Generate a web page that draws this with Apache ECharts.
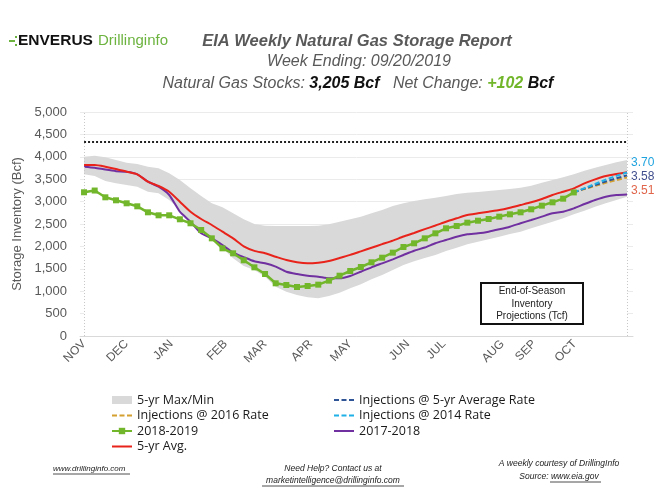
<!DOCTYPE html>
<html>
<head>
<meta charset="utf-8">
<script src="https://cdn.jsdelivr.net/npm/echarts@6/dist/echarts.min.js"></script>
<style>
html,body{margin:0;padding:0;background:#fff;}
#chart{width:665px;height:498px;}
</style>
</head>
<body>
<div id="chart"></div>
<script>
// ---- data (weekly, week ending dates) ----
const weeks = ['11/02','11/09','11/16','11/23','11/30','12/07','12/14','12/21','12/28',
  '01/04','01/11','01/18','01/25','02/01','02/08','02/15','02/22','03/01','03/08','03/15','03/22','03/29',
  '04/05','04/12','04/19','04/26','05/03','05/10','05/17','05/24','05/31','06/07','06/14','06/21','06/28',
  '07/05','07/12','07/19','07/26','08/02','08/09','08/16','08/23','08/30','09/06','09/13','09/20',
  '09/27','10/04','10/11','10/18','10/25'];
const monthLabels = ['NOV','DEC','JAN','FEB','MAR','APR','MAY','JUN','JUL','AUG','SEP','OCT'];
const monthTicks = [0, 4.0, 8.2, 13.3, 17.0, 21.3, 25.0, 30.4, 33.8, 39.3, 42.3, 46.1];

const fiveYrMax = [4003,4025,3988,3929,3869,3839,3780,3743,3631,3482,3296,3125,2962,2872,2738,2605,2500,2460,2455,2455,2455,2455,2460,2493,2551,2605,2664,2738,2812,2902,2962,3013,3050,3085,3125,3170,3199,3214,3237,3259,3281,3311,3355,3423,3482,3542,3609,3690,3757,3817,3876,3929];
const fiveYrMin = [3609,3570,3460,3408,3370,3333,3221,3185,3036,2812,2551,2366,2180,1957,1734,1560,1473,1324,1101,989,915,863,841,893,967,1065,1154,1265,1362,1473,1585,1670,1740,1808,1897,1971,2046,2105,2158,2217,2277,2329,2404,2478,2551,2627,2716,2797,2887,2962,3036,3110];
const fiveYrAvg = [3817,3817,3780,3728,3668,3609,3445,3348,3221,2998,2775,2612,2478,2329,2180,2000,1900,1846,1770,1696,1645,1622,1637,1674,1740,1810,1890,1970,2050,2130,2220,2300,2385,2465,2551,2627,2701,2738,2775,2812,2864,2924,2984,3058,3147,3221,3296,3408,3497,3571,3616,3654];
const y2017_2018 = [3780,3757,3715,3680,3665,3609,3445,3333,3147,2775,2551,2292,2180,2031,1860,1760,1667,1622,1547,1435,1384,1346,1324,1288,1288,1339,1435,1533,1622,1711,1808,1904,1975,2070,2143,2217,2270,2292,2329,2382,2440,2516,2589,2664,2738,2775,2850,2946,3036,3110,3147,3160];
const y2018_2019 = [3208,3247,3096,3029,2962,2895,2761,2694,2694,2605,2516,2366,2180,1957,1846,1690,1533,1384,1176,1138,1094,1116,1146,1235,1346,1451,1540,1645,1748,1860,1987,2069,2180,2292,2404,2455,2530,2574,2612,2664,2716,2761,2828,2909,2984,3065,3205];
const projStart = 46; // index of 09/20
const proj5yrAvg = [3205,3290,3370,3450,3520,3585];
const proj2016 = [3205,3280,3350,3420,3480,3540];
const proj2014 = [3205,3300,3395,3490,3575,3650];
const endLabels = ['3.70','3.58','3.51'];
const maxCapacity = 4330;

const toXY = (arr, start) => arr.map((v, i) => [i + (start || 0), v]);

const FONT = '"Liberation Sans", Arial, sans-serif';
const chart = echarts.init(document.getElementById('chart'), null, {renderer: 'canvas'});

const legendText = {fontSize: 12.5, color: '#1a1a1a', fontFamily: '"Open Sans", sans-serif', lineHeight: 14};
const option = {
  backgroundColor: '#fff',
  animation: false,
  grid: {left: 80, right: 32, top: 112, bottom: 162},
  xAxis: {
    type: 'value', min: -0.38, max: 51.56, z: 10,
    axisLine: {show: true, lineStyle: {color: '#D9D9D9', width: 1}},
    axisTick: {show: false},
    splitLine: {show: false},
    axisLabel: {
      customValues: monthTicks,
      formatter: v => { const k = monthTicks.indexOf(v); return k >= 0 ? monthLabels[k] : ''; },
      rotate: 45, color: '#595959', fontSize: 12, fontFamily: FONT, margin: 6
    }
  },
  yAxis: {
    type: 'value', min: 0, max: 5000, interval: 500,
    name: 'Storage Inventory (Bcf)', nameLocation: 'middle', nameGap: 49, nameRotate: 90,
    nameTextStyle: {color: '#595959', fontSize: 13, fontFamily: FONT},
    axisLine: {show: false}, axisTick: {show: false},
    axisLabel: {color: '#595959', fontSize: 13, fontFamily: FONT, margin: 13,
      formatter: v => v.toLocaleString('en-US')},
    splitLine: {show: true, lineStyle: {color: '#EBEBEB', width: 1}}
  },
  legend: [
    {
      orient: 'vertical', left: 106, top: 388, itemWidth: 20, itemHeight: 8, itemGap: 1.5,
      itemStyle: {opacity: 0},
      textStyle: legendText,
      data: [{name: '5-yr Max/Min', icon: 'rect', itemStyle: {opacity: 1}}, 'Injections @ 2016 Rate',
             {name: '2018-2019', itemStyle: {opacity: 1}}, '5-yr Avg.']
    },
    {
      orient: 'vertical', left: 328, top: 388, itemWidth: 20, itemHeight: 8, itemGap: 1.5,
      itemStyle: {opacity: 0},
      textStyle: legendText,
      data: ['Injections @ 5-yr Average Rate', 'Injections @ 2014 Rate', '2017-2018']
    }
  ],
  series: [
    {
      name: '5-yr Max/Min', type: 'line', data: toXY(fiveYrMax), symbol: 'none', z: 1,
      itemStyle: {color: '#D9D9D9'},
      lineStyle: {width: 0, color: '#D9D9D9'},
      areaStyle: {color: '#D9D9D9', opacity: 1}
    },
    {
      name: 'min', type: 'line', data: toXY(fiveYrMin), symbol: 'none', z: 1.5,
      lineStyle: {width: 0}, areaStyle: {color: '#FFFFFF', opacity: 1}, silent: true
    },
    {
      name: 'guides', type: 'line', data: [], z: 3, symbol: 'none',
      markLine: {
        silent: true, symbol: 'none', label: {show: false}, animation: false,
        data: [
          [{coord: [0, 0], lineStyle: {type: [1, 2], color: '#C8C8C8', width: 1}}, {coord: [0, 5000]}],
          [{coord: [51, 0], lineStyle: {type: [1, 2], color: '#C8C8C8', width: 1}}, {coord: [51, 5000]}],
          [{coord: [0, maxCapacity], lineStyle: {type: [2, 2], color: '#222', width: 2}}, {coord: [51, maxCapacity]}]
        ]
      }
    },
    {
      name: '2017-2018', type: 'line', data: toXY(y2017_2018), symbol: 'none', smooth: 0.2, z: 4,
      itemStyle: {color: '#7030A0'}, lineStyle: {color: '#7030A0', width: 2}
    },
    {
      name: '5-yr Avg.', type: 'line', data: toXY(fiveYrAvg), symbol: 'none', smooth: 0.2, z: 5,
      itemStyle: {color: '#E8231B'}, lineStyle: {color: '#E8231B', width: 2}
    },
    {
      name: 'Injections @ 2016 Rate', type: 'line', data: toXY(proj2016, projStart), symbol: 'none', z: 6,
      itemStyle: {color: '#D4A02F'}, lineStyle: {color: '#D4A02F', width: 2, type: [5, 2.5]}
    },
    {
      name: 'Injections @ 5-yr Average Rate', type: 'line', data: toXY(proj5yrAvg, projStart), symbol: 'none', z: 6,
      itemStyle: {color: '#2F5597'}, lineStyle: {color: '#2F5597', width: 2, type: [5, 2.5]}
    },
    {
      name: 'Injections @ 2014 Rate', type: 'line', data: toXY(proj2014, projStart), symbol: 'none', z: 6,
      itemStyle: {color: '#1FB0E8'}, lineStyle: {color: '#1FB0E8', width: 2, type: [5, 2.5]}
    },
    {
      name: '2018-2019', type: 'line', data: toXY(y2018_2019), symbol: 'rect', symbolSize: 6, z: 7,
      itemStyle: {color: '#72B62B'}, lineStyle: {color: '#72B62B', width: 2.5}
    }
  ],
  graphic: [
    // logo
    {type: 'rect', shape: {x: 9, y: 40, width: 6, height: 2}, style: {fill: '#6CB33F'}},
    {type: 'rect', shape: {x: 15, y: 36, width: 2, height: 2}, style: {fill: '#6CB33F'}},
    {type: 'rect', shape: {x: 15, y: 44, width: 2, height: 2}, style: {fill: '#6CB33F'}},
    {type: 'text', x: 18, y: 41, style: {text: 'ENVERUS', font: 'bold 15.5px ' + FONT, fill: '#111', verticalAlign: 'middle'}},
    {type: 'text', x: 98, y: 41, style: {text: 'Drillinginfo', font: '15px ' + FONT, fill: '#6CB33F', verticalAlign: 'middle'}},
    // titles
    {type: 'text', x: 357, y: 41, style: {text: 'EIA Weekly Natural Gas Storage Report', font: 'italic bold 16.5px ' + FONT, fill: '#595959', align: 'center', verticalAlign: 'middle'}},
    {type: 'text', x: 359, y: 62, style: {text: 'Week Ending: 09/20/2019', font: 'italic 16px ' + FONT, fill: '#595959', align: 'center', verticalAlign: 'middle'}},
    {type: 'text', x: 358, y: 84, style: {
      text: '{a|Natural Gas Stocks: }{b|3,205 Bcf}{a|   Net Change: }{g|+102}{b| Bcf}',
      align: 'center', verticalAlign: 'middle',
      rich: {
        a: {fontStyle: 'italic', fontSize: 16, fontFamily: FONT, fill: '#595959'},
        b: {fontStyle: 'italic', fontWeight: 'bold', fontSize: 16, fontFamily: FONT, fill: '#111'},
        g: {fontStyle: 'italic', fontWeight: 'bold', fontSize: 16, fontFamily: FONT, fill: '#72B62B'}
      }}},
    // end labels
    {type: 'text', x: 631, y: 163, style: {text: endLabels[0], font: '12px ' + FONT, fill: '#1FA3DF', verticalAlign: 'middle'}},
    {type: 'text', x: 631, y: 177, style: {text: endLabels[1], font: '12px ' + FONT, fill: '#404E8E', verticalAlign: 'middle'}},
    {type: 'text', x: 631, y: 191, style: {text: endLabels[2], font: '12px ' + FONT, fill: '#E0654A', verticalAlign: 'middle'}},
    // projection box
    {type: 'rect', shape: {x: 481, y: 283, width: 102, height: 41}, style: {fill: '#fff', stroke: '#111', lineWidth: 2}, z: 20},
    {type: 'text', x: 532, y: 304, z: 21, style: {text: 'End-of-Season\nInventory\nProjections (Tcf)', font: '10px ' + FONT, fill: '#222', align: 'center', verticalAlign: 'middle', lineHeight: 12.5}},
    // footer
    {type: 'text', x: 53, y: 469, style: {text: 'www.drillinginfo.com', font: 'italic 8px ' + FONT, fill: '#222', verticalAlign: 'middle'}},
    {type: 'line', shape: {x1: 53, y1: 474, x2: 130, y2: 474}, style: {stroke: '#222', lineWidth: 0.8}},
    {type: 'text', x: 333, y: 469, style: {text: 'Need Help? Contact us at', font: 'italic 8.5px ' + FONT, fill: '#222', align: 'center', verticalAlign: 'middle'}},
    {type: 'text', x: 333, y: 481, style: {text: 'marketintelligence@drillinginfo.com', font: 'italic 8.5px ' + FONT, fill: '#222', align: 'center', verticalAlign: 'middle'}},
    {type: 'line', shape: {x1: 262, y1: 486, x2: 404, y2: 486}, style: {stroke: '#222', lineWidth: 0.8}},
    {type: 'text', x: 559, y: 464, style: {text: 'A weekly courtesy of DrillingInfo', font: 'italic 8.5px ' + FONT, fill: '#222', align: 'center', verticalAlign: 'middle'}},
    {type: 'text', x: 559, y: 477, style: {text: 'Source: www.eia.gov', font: 'italic 8.5px ' + FONT, fill: '#222', align: 'center', verticalAlign: 'middle'}},
    {type: 'line', shape: {x1: 550, y1: 482, x2: 601, y2: 482}, style: {stroke: '#222', lineWidth: 0.8}}
  ]
};
chart.setOption(option);
</script>
</body>
</html>
